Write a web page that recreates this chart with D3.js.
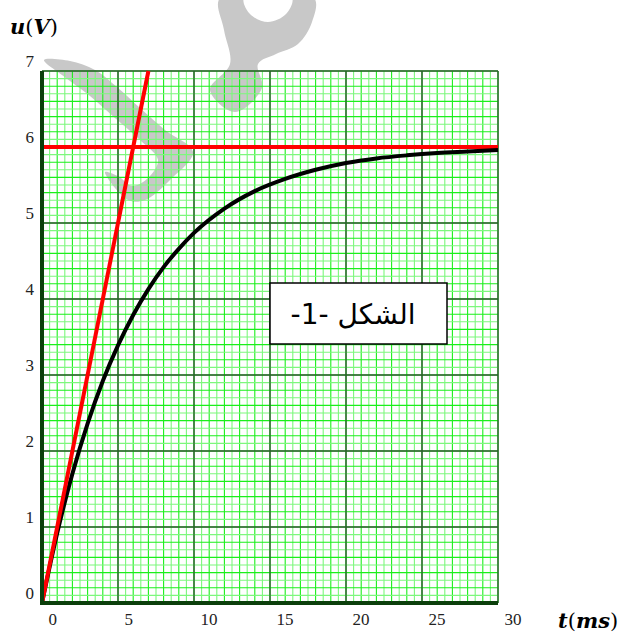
<!DOCTYPE html>
<html>
<head>
<meta charset="utf-8">
<script src="https://cdn.jsdelivr.net/npm/d3@7"></script>
<style>
  body { margin: 0; background: #fff; }
  svg { display: block; }
</style>
</head>
<body>
<div id="chart-area"></div>
<script>
// values
var tValues = [0, 1, 2, 3, 4, 5, 6, 7, 8, 9, 10, 12, 14, 16, 18, 20, 22, 24, 26, 28, 30];
var uValues = [0, 0.92, 1.70, 2.36, 2.92, 3.39, 3.79, 4.13, 4.42, 4.66, 4.87, 5.19, 5.42, 5.58, 5.70, 5.79, 5.85, 5.89, 5.92, 5.94, 5.96];
var tangentT = [0, 7];
var tangentU = [0, 7];
var asymptoteU = 6;
var xTicks = [0, 5, 10, 15, 20, 25, 30];
var yTicks = [0, 1, 2, 3, 4, 5, 6, 7];
var figLabel = "الشكل -1-";

// SVG drawing area
var W = 622, H = 632;
var margin = {top: 71, right: 124, bottom: 29, left: 42};
var width = W - margin.left - margin.right,
    height = H - margin.top - margin.bottom;

var svg = d3.select("#chart-area").append("svg")
    .attr("width", W)
    .attr("height", H);

// Scales
var x = d3.scaleLinear().domain([0, 30]).range([margin.left, margin.left + width]);
var y = d3.scaleLinear().domain([0, 7]).range([margin.top + height, margin.top]);

// faded watermark of the source document
var wm = d3.line().curve(d3.curveCatmullRomClosed);
svg.append("path")
    .attr("d", wm([[44,60],[70,61],[95,70],[118,88],[140,108],[165,130],[193,152],[170,180],[145,200],[128,200],[105,172],[118,176],[132,186],[148,178],[158,160],[140,140],[115,118],[90,96],[62,75]]))
    .attr("fill", "#c8c8c8");
svg.append("path")
    .attr("d", wm([[220,-2],[224,30],[230,64],[210,90],[235,112],[262,88],[258,64],[276,54],[298,44],[312,22],[314,-2]]) +
               wm([[244,-2],[250,14],[268,22],[286,14],[292,-2]]))
    .attr("fill", "#c8c8c8")
    .attr("fill-rule", "evenodd");

// Grid
var grid = svg.append("g").attr("class", "grid");
var minorX = d3.range(0, 30.001, 0.5);
var minorY = d3.range(0, 7.001, 0.1);

grid.selectAll(".minor-x").data(minorX).enter().append("line")
    .attr("class", "minor-x")
    .attr("x1", function(d) { return x(d); }).attr("x2", function(d) { return x(d); })
    .attr("y1", y(0)).attr("y2", y(7))
    .attr("stroke", function(d, i) { return i % 2 ? "#7df77d" : "#1bef1b"; })
    .attr("stroke-width", 1.1);

grid.selectAll(".minor-y").data(minorY).enter().append("line")
    .attr("class", "minor-y")
    .attr("y1", function(d) { return y(d); }).attr("y2", function(d) { return y(d); })
    .attr("x1", x(0)).attr("x2", x(30))
    .attr("stroke", function(d, i) { return i % 2 ? "#7df77d" : "#1bef1b"; })
    .attr("stroke-width", 1.1);

grid.selectAll(".major-x").data(xTicks).enter().append("line")
    .attr("class", "major-x")
    .attr("x1", function(d) { return x(d); }).attr("x2", function(d) { return x(d); })
    .attr("y1", y(0)).attr("y2", y(7))
    .attr("stroke", "#2f5a2f")
    .attr("stroke-width", 1.4);

grid.selectAll(".major-y").data(yTicks).enter().append("line")
    .attr("class", "major-y")
    .attr("y1", function(d) { return y(d); }).attr("y2", function(d) { return y(d); })
    .attr("x1", x(0)).attr("x2", x(30))
    .attr("stroke", "#2f5a2f")
    .attr("stroke-width", 1.4);

// asymptote
svg.append("line")
    .attr("x1", x(0)).attr("x2", x(30))
    .attr("y1", y(asymptoteU)).attr("y2", y(asymptoteU))
    .attr("stroke", "#ff0000")
    .attr("stroke-width", 4);

// curve
var line = d3.line()
    .x(function(d, i) { return x(tValues[i]); })
    .y(function(d) { return y(d); })
    .curve(d3.curveMonotoneX);

svg.append("path")
    .datum(uValues)
    .attr("d", line)
    .attr("fill", "none")
    .attr("stroke", "#000")
    .attr("stroke-width", 4);

// tangent at origin
svg.append("line")
    .attr("x1", x(tangentT[0])).attr("y1", y(tangentU[0]))
    .attr("x2", x(tangentT[1])).attr("y2", y(tangentU[1]))
    .attr("stroke", "#ff0000")
    .attr("stroke-width", 4);

// thick axes
svg.append("line")
    .attr("x1", x(0)).attr("x2", x(0))
    .attr("y1", y(7)).attr("y2", y(0) + 2)
    .attr("stroke", "#0b3f0b").attr("stroke-width", 4);
svg.append("line")
    .attr("x1", x(0) - 2).attr("x2", x(30))
    .attr("y1", y(0)).attr("y2", y(0))
    .attr("stroke", "#0b3f0b").attr("stroke-width", 4);

// tick labels
var xAxis = d3.axisBottom(x).tickValues(xTicks).tickFormat(d3.format("d")).tickSize(0).tickPadding(10);
var x_axis = svg.append("g")
    .attr("class", "x-axis axis")
    .attr("transform", "translate(0," + y(0) + ")")
    .call(xAxis);
x_axis.select(".domain").remove();
x_axis.attr("font-family", "Liberation Serif, serif").attr("font-size", 17);
x_axis.selectAll("text")
    .attr("x", 6)
    .attr("text-anchor", "start")
    .attr("fill", "#222");

var yAxis = d3.axisLeft(y).tickValues(yTicks).tickFormat(d3.format("d")).tickSize(0).tickPadding(8);
var y_axis = svg.append("g")
    .attr("class", "y-axis axis")
    .attr("transform", "translate(" + x(0) + ",0)")
    .call(yAxis);
y_axis.select(".domain").remove();
y_axis.attr("font-family", "Liberation Serif, serif").attr("font-size", 17);
y_axis.selectAll("text")
    .attr("y", -10)
    .attr("fill", "#222");

// axis titles
var uTitle = svg.append("text")
    .attr("x", 10).attr("y", 34)
    .attr("font-family", "DejaVu Serif, serif")
    .attr("font-size", 21);
uTitle.append("tspan").attr("font-weight", "bold").attr("font-style", "italic").text("u");
uTitle.append("tspan").text("(");
uTitle.append("tspan").attr("font-weight", "bold").attr("font-style", "italic").text("V");
uTitle.append("tspan").text(")");

var tTitle = svg.append("text")
    .attr("x", 558).attr("y", 628)
    .attr("font-family", "DejaVu Serif, serif")
    .attr("font-size", 21);
tTitle.append("tspan").attr("font-weight", "bold").attr("font-style", "italic").text("t");
tTitle.append("tspan").text("(");
tTitle.append("tspan").attr("font-weight", "bold").attr("font-style", "italic").text("ms");
tTitle.append("tspan").text(")");

// figure label box
svg.append("rect")
    .attr("x", 270).attr("y", 283)
    .attr("width", 177).attr("height", 61)
    .attr("fill", "#fff")
    .attr("stroke", "#000")
    .attr("stroke-width", 1.5);
svg.append("text")
    .attr("x", 353).attr("y", 324)
    .attr("text-anchor", "middle")
    .attr("direction", "rtl")
    .attr("font-family", "DejaVu Sans, sans-serif")
    .attr("font-size", 28)
    .text(figLabel);
</script>
</body>
</html>
